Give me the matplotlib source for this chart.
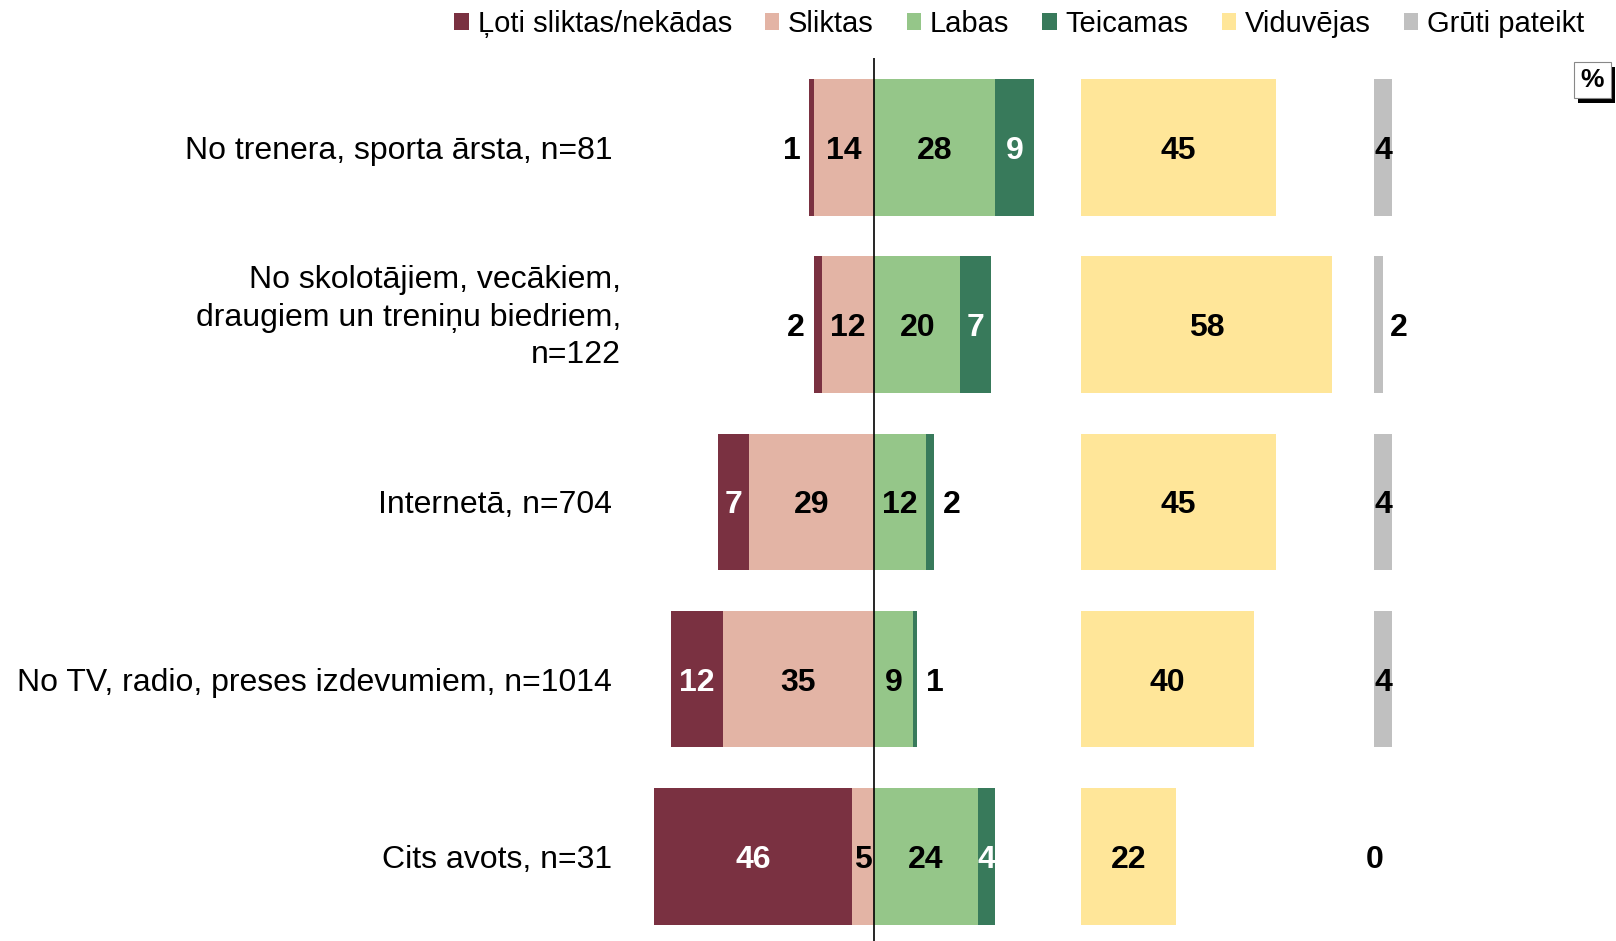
# Diverging bar chart - sources of information, rated quality (%)
import matplotlib.pyplot as plt
from matplotlib.patches import Patch, Rectangle

plt.rcParams['font.family'] = ['Liberation Sans', 'DejaVu Sans']

categories = ["No trenera, sporta ārsta, n=81",
              "No skolotājiem, vecākiem,\ndraugiem un treniņu biedriem,\nn=122",
              "Internetā, n=704",
              "No TV, radio, preses izdevumiem, n=1014",
              "Cits avots, n=31"]
loti_sliktas = [1, 2, 7, 12, 46]
sliktas = [14, 12, 29, 35, 5]
labas = [28, 20, 12, 9, 24]
teicamas = [9, 7, 2, 1, 4]
viduvejas = [45, 58, 45, 40, 22]
gruti = [4, 2, 4, 4, 0]
series_names = ["Ļoti sliktas/nekādas", "Sliktas", "Labas", "Teicamas", "Viduvējas", "Grūti pateikt"]
colors = ["#7A3141", "#E3B4A5", "#95C689", "#387A5B", "#FFE699", "#C0C0C0"]

fig = plt.figure(figsize=(16.16, 9.41), dpi=100)
# 4.32 px per percent, zero line at x=874 px
scale = 4.32
ax = fig.add_axes([0, 0, 1, (941 - 58) / 941])
ax.set_xlim(-874 / scale, (1616 - 874) / scale)
ax.set_ylim(4.477, -0.504)
ax.axis("off")

yel_off = 48
gray_off = 115.8
h = 0.77
y = list(range(len(categories)))

# negative side
ax.barh(y, [-v for v in sliktas], height=h, color=colors[1], lw=0)
ax.barh(y, [-v for v in loti_sliktas], left=[-v for v in sliktas], height=h, color=colors[0], lw=0)
# positive side
ax.barh(y, labas, height=h, color=colors[2], lw=0)
ax.barh(y, teicamas, left=labas, height=h, color=colors[3], lw=0)
# separate columns
ax.barh(y, viduvejas, left=yel_off, height=h, color=colors[4], lw=0)
ax.barh(y, gruti, left=gray_off, height=h, color=colors[5], lw=0)

ax.axvline(0, color="black", lw=1.2)

fs = 23
dy = 0.02  # small nudge so text sits on the bar middle
lab = dict(fontsize=fs, fontweight="bold", va="center")
for i in y:
    ty = i + dy
    # sliktas
    ax.text(-sliktas[i] / 2, ty, str(sliktas[i]), ha="center", color="black", **lab)
    # loti sliktas
    v = loti_sliktas[i]
    if v >= 3:
        ax.text(-sliktas[i] - v / 2, ty, str(v), ha="center", color="white", **lab)
    else:
        ax.text(-sliktas[i] - v - 2, ty, str(v), ha="right", color="black", **lab)
    # labas
    ax.text(labas[i] / 2, ty, str(labas[i]), ha="center", color="black", **lab)
    # teicamas
    v = teicamas[i]
    if v >= 3:
        ax.text(labas[i] + v / 2, ty, str(v), ha="center", color="white", **lab)
    else:
        ax.text(labas[i] + v + 2, ty, str(v), ha="left", color="black", **lab)
    # viduvejas
    ax.text(yel_off + viduvejas[i] / 2, ty, str(viduvejas[i]), ha="center", color="black", **lab)
    # gruti
    v = gruti[i]
    if v >= 3 or v == 0:
        ax.text(gray_off + v / 2, ty, str(v), ha="center", color="black", **lab)
    else:
        ax.text(gray_off + v + 1.5, ty, str(v), ha="left", color="black", **lab)
    # category label
    if "\n" in categories[i]:
        ax.text(-58.5, ty - 0.058, categories[i], ha="right", va="center", fontsize=fs,
                multialignment="right", linespacing=1.33)
    else:
        ax.text(-60.6, ty, categories[i], ha="right", va="center", fontsize=fs)

handles = [Patch(facecolor=c, edgecolor="none") for c in colors]
fig.legend(handles, series_names, loc="upper right", bbox_to_anchor=(1602 / 1616, 1.008),
           ncol=6, frameon=False, fontsize=21, handlelength=0.5, handleheight=0.5,
           handletextpad=0.3, columnspacing=1.13, borderaxespad=0.2)

# "%" box with shadow
fig.patches.append(Rectangle((1578 / 1616, 1 - 103 / 941), 37 / 1616, 36 / 941,
                             transform=fig.transFigure, facecolor="black", edgecolor="none"))
fig.patches.append(Rectangle((1574 / 1616, 1 - 98 / 941), 37 / 1616, 36 / 941,
                             transform=fig.transFigure, facecolor="white", edgecolor="#888888", lw=0.8))
fig.text(1592.5 / 1616, 1 - 80 / 941, "%", ha="center", va="center", fontsize=19, fontweight="bold")

fig.savefig("out.png", dpi=100)
